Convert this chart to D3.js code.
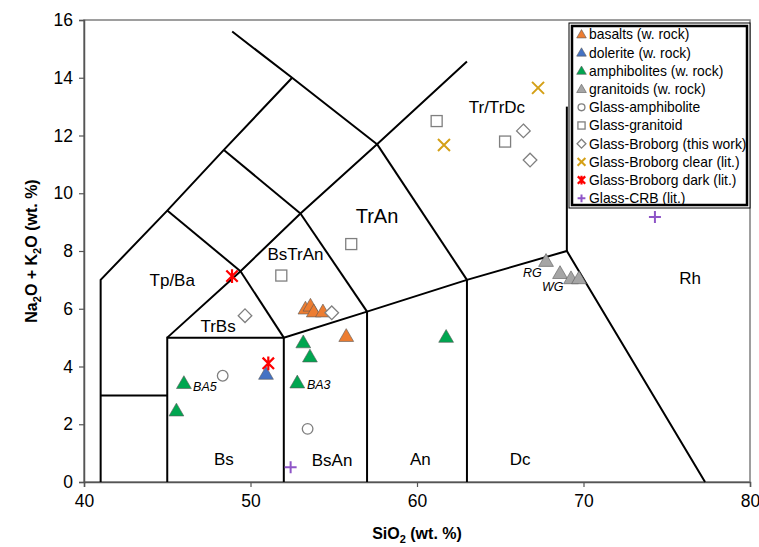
<!DOCTYPE html>
<html>
<head>
<meta charset="utf-8">
<script src="https://cdn.jsdelivr.net/npm/d3@7"></script>
<style>
  body { margin: 0; background: #fff; }
</style>
</head>
<body>
<div id="chart"></div>
<script>
// TAS field boundaries (SiO2, Na2O+K2O)
const fieldLines = [
  [[41, 0], [41, 7], [45, 9.4], [48.4, 11.5], [52.5, 14]],
  [[41, 3], [45, 3]],
  [[45, 0], [45, 5], [52, 5], [57, 5.9], [63, 7], [69, 8], [77.3, 0]],
  [[52, 0], [52, 5]],
  [[57, 0], [57, 5.9]],
  [[63, 0], [63, 7]],
  [[69, 8], [69, 13]],
  [[45, 5], [49.4, 7.3], [53, 9.3], [57.6, 11.7], [63, 14.56]],
  [[49.4, 7.3], [52, 5]],
  [[53, 9.3], [57, 5.9]],
  [[57.6, 11.7], [63, 7]],
  [[45, 9.4], [49.4, 7.3]],
  [[48.4, 11.5], [53, 9.3]],
  [[48.9, 15.6], [52.5, 14], [57.6, 11.7]]
];

const fieldNames = ['Tp/Ba', 'TrBs', 'BsTrAn', 'TrAn', 'Tr/TrDc', 'Rh', 'Bs', 'BsAn', 'An', 'Dc'];
const fieldX = [45.3, 48.05, 52.7, 57.6, 64.8, 76.4, 48.4, 54.9, 60.2, 66.2];
const fieldY = [7.0, 5.4, 7.9, 9.2, 13.0, 7.07, 0.78, 0.75, 0.78, 0.78];

// series
const basaltsX = [53.3, 53.6, 53.8, 54.35, 55.75];
const basaltsY = [6.0, 6.1, 5.9, 5.9, 5.05];
const doleriteX = [50.93];
const doleriteY = [3.74];
const amphibolitesX = [46.0, 45.55, 53.17, 53.57, 52.81, 61.75];
const amphibolitesY = [3.42, 2.47, 4.83, 4.34, 3.44, 5.02];
const granitoidsX = [67.75, 68.59, 69.25, 69.73];
const granitoidsY = [7.65, 7.23, 7.05, 7.05];
const glassAmphX = [48.33, 53.43];
const glassAmphY = [3.68, 1.84];
const glassGranX = [56.05, 51.85, 61.18, 65.29];
const glassGranY = [8.24, 7.15, 12.5, 11.79];
const glassBroX = [66.39, 66.79, 49.67, 54.88];
const glassBroY = [12.16, 11.15, 5.76, 5.86];
const clearX = [61.62, 67.27];
const clearY = [11.67, 13.65];
const darkX = [48.89, 51.07];
const darkY = [7.13, 4.11];
const crbX = [74.29, 52.41];
const crbY = [9.18, 0.51];

const pointLabels = ['BA5', 'BA3', 'RG', 'WG'];
const pointLabelX = [46.55, 53.39, 66.37, 67.5];
const pointLabelY = [3.29, 3.36, 7.26, 6.75];

const xTicks = [40, 50, 60, 70, 80];
const yTicks = [0, 2, 4, 6, 8, 10, 12, 14, 16];

const font = "'Liberation Sans', Arial, sans-serif";
const width = 759;
const height = 547;
const marginTop = 20;
const marginRight = 9;
const marginBottom = 65;
const marginLeft = 84;
const innerWidth = width - marginLeft - marginRight;
const innerHeight = height - marginTop - marginBottom;

const svg = d3
  .select('#chart')
  .append('svg')
  .attr('width', width)
  .attr('height', height)
  .attr('font-family', font);

const chart = svg
  .append('g')
  .attr('transform', 'translate(' + marginLeft + ',' + marginTop + ')');

const x = d3.scaleLinear().domain([40, 80]).range([0, innerWidth]);
const y = d3.scaleLinear().domain([0, 16]).range([innerHeight, 0]);

// frame
chart
  .append('rect')
  .attr('width', innerWidth)
  .attr('height', innerHeight)
  .attr('fill', 'none')
  .attr('stroke', '#7f7f7f')
  .attr('stroke-width', 1.5);

// axes
const xAxis = chart
  .append('g')
  .attr('transform', 'translate(0,' + innerHeight + ')')
  .call(d3.axisBottom(x).tickValues(xTicks).tickSize(5).tickPadding(8));
const yAxis = chart
  .append('g')
  .call(d3.axisLeft(y).tickValues(yTicks).tickSize(5).tickPadding(6));
[xAxis, yAxis].forEach((a) => {
  a.attr('font-family', font).attr('font-size', 17.5);
  a.select('.domain').attr('stroke', '#555').attr('stroke-width', 1.5);
  a.selectAll('.tick line').attr('stroke', '#555').attr('stroke-width', 1.2);
  a.selectAll('.tick text').attr('fill', '#000');
});

// field lines
const line = d3
  .line()
  .x((d) => x(d[0]))
  .y((d) => y(d[1]));
chart
  .append('g')
  .selectAll('path')
  .data(fieldLines)
  .enter()
  .append('path')
  .attr('d', line)
  .attr('fill', 'none')
  .attr('stroke', '#000')
  .attr('stroke-width', 2)
  .attr('stroke-linejoin', 'miter');

// field names
chart
  .append('g')
  .selectAll('text')
  .data(fieldNames)
  .enter()
  .append('text')
  .attr('x', (d, i) => x(fieldX[i]))
  .attr('y', (d, i) => y(fieldY[i]))
  .attr('dy', '0.35em')
  .attr('text-anchor', 'middle')
  .attr('font-size', (d) => (d === 'TrAn' ? 20 : 17))
  .text((d) => d);

// markers
function triPath(s) {
  return d3.symbol().type(d3.symbolTriangle).size(s)();
}
function xPath(r) {
  return 'M' + -r + ',' + -r + 'L' + r + ',' + r + 'M' + -r + ',' + r + 'L' + r + ',' + -r;
}
function starPath(r) {
  return xPath(r) + 'M0,' + -r * 1.2 + 'L0,' + r * 1.2;
}
function plusPath(r) {
  return 'M' + -r + ',0L' + r + ',0M0,' + -r + 'L0,' + r;
}

const series = [
  { name: 'basalts (w. rock)', xs: basaltsX, ys: basaltsY, kind: 'tri', fill: '#ed7d31' },
  { name: 'dolerite (w. rock)', xs: doleriteX, ys: doleriteY, kind: 'tri', fill: '#4472c4' },
  { name: 'amphibolites (w. rock)', xs: amphibolitesX, ys: amphibolitesY, kind: 'tri', fill: '#00a650' },
  { name: 'granitoids (w. rock)', xs: granitoidsX, ys: granitoidsY, kind: 'tri', fill: '#a5a5a5' },
  { name: 'Glass-amphibolite', xs: glassAmphX, ys: glassAmphY, kind: 'circle' },
  { name: 'Glass-granitoid', xs: glassGranX, ys: glassGranY, kind: 'square' },
  { name: 'Glass-Broborg (this work)', xs: glassBroX, ys: glassBroY, kind: 'diamond' },
  { name: 'Glass-Broborg clear (lit.)', xs: clearX, ys: clearY, kind: 'x', stroke: '#d4a017' },
  { name: 'Glass-Broborg dark (lit.)', xs: darkX, ys: darkY, kind: 'star', stroke: '#ff0000' },
  { name: 'Glass-CRB (lit.)', xs: crbX, ys: crbY, kind: 'plus', stroke: '#8e55c7' }
];

function drawMarker(g, s, scale) {
  if (s.kind === 'tri') {
    g.append('path')
      .attr('d', triPath(95 * scale * scale))
      .attr('transform', 'translate(0,' + 1 * scale + ')')
      .attr('fill', s.fill)
      .attr('stroke', '#595959')
      .attr('stroke-width', 0.6);
  } else if (s.kind === 'circle') {
    g.append('circle')
      .attr('r', 5.3 * scale)
      .attr('fill', '#fff')
      .attr('stroke', '#7f7f7f')
      .attr('stroke-width', 1.3);
  } else if (s.kind === 'square') {
    g.append('rect')
      .attr('x', -5.5 * scale)
      .attr('y', -5.5 * scale)
      .attr('width', 11 * scale)
      .attr('height', 11 * scale)
      .attr('fill', '#fff')
      .attr('stroke', '#7f7f7f')
      .attr('stroke-width', 1.3);
  } else if (s.kind === 'diamond') {
    const r = 6.8 * scale;
    g.append('path')
      .attr('d', 'M0,' + -r + 'L' + r + ',0L0,' + r + 'L' + -r + ',0Z')
      .attr('fill', '#fff')
      .attr('stroke', '#7f7f7f')
      .attr('stroke-width', 1.3);
  } else {
    const r = 6 * scale;
    const d = s.kind === 'x' ? xPath(r) : s.kind === 'star' ? starPath(r * 0.95) : plusPath(r);
    g.append('path')
      .attr('d', d)
      .attr('fill', 'none')
      .attr('stroke', s.stroke)
      .attr('stroke-width', s.kind === 'star' ? 2.2 : 2);
  }
}

const pts = chart.append('g');
series.forEach((s) => {
  s.xs.forEach((v, i) => {
    const g = pts
      .append('g')
      .attr('transform', 'translate(' + x(v) + ',' + y(s.ys[i]) + ')');
    drawMarker(g, s, 1);
  });
});

// sample labels
chart
  .append('g')
  .selectAll('text')
  .data(pointLabels)
  .enter()
  .append('text')
  .attr('x', (d, i) => x(pointLabelX[i]))
  .attr('y', (d, i) => y(pointLabelY[i]))
  .attr('dy', '0.35em')
  .attr('font-size', 12.5)
  .attr('font-style', 'italic')
  .text((d) => d);

// legend
const lg = svg.append('g').attr('transform', 'translate(569,23)');
lg.append('rect')
  .attr('width', 181)
  .attr('height', 185)
  .attr('fill', '#fff')
  .attr('stroke', '#000')
  .attr('stroke-width', 1);
lg.append('rect')
  .attr('x', 3)
  .attr('y', 3)
  .attr('width', 175)
  .attr('height', 179)
  .attr('fill', 'none')
  .attr('stroke', '#000')
  .attr('stroke-width', 2.5);
series.forEach((s, i) => {
  const ry = 11.5 + i * 18.2;
  const m = lg.append('g').attr('transform', 'translate(12.5,' + ry + ')');
  drawMarker(m, s, 0.65);
  lg.append('text')
    .attr('x', 20)
    .attr('y', ry)
    .attr('dy', '0.35em')
    .attr('font-size', 13.9)
    .text(s.name);
});

// axis titles
const xt = svg
  .append('text')
  .attr('x', marginLeft + innerWidth / 2)
  .attr('y', 539)
  .attr('text-anchor', 'middle')
  .attr('font-size', 16)
  .attr('font-weight', 'bold');
xt.append('tspan').text('SiO');
xt.append('tspan').attr('font-size', 11).attr('dy', 4).text('2');
xt.append('tspan').attr('dy', -4).text(' (wt. %)');

const yt = svg
  .append('text')
  .attr('transform', 'translate(37,' + (marginTop + innerHeight / 2) + ') rotate(-90)')
  .attr('text-anchor', 'middle')
  .attr('font-size', 16)
  .attr('font-weight', 'bold');
yt.append('tspan').text('Na');
yt.append('tspan').attr('font-size', 11).attr('dy', 4).text('2');
yt.append('tspan').attr('dy', -4).text('O + K');
yt.append('tspan').attr('font-size', 11).attr('dy', 4).text('2');
yt.append('tspan').attr('dy', -4).text('O (wt. %)');
</script>
</body>
</html>
